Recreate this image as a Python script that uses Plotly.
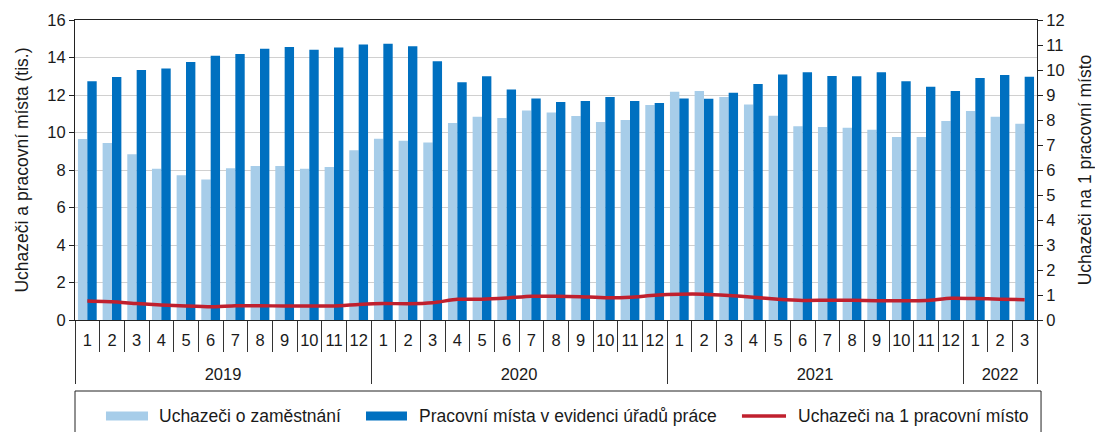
import plotly.graph_objects as go

# ---- data ----
years = ["2019", "2020", "2021", "2022"]
months_per_year = [12, 12, 12, 3]
month_labels = ["1", "2", "3", "4", "5", "6", "7", "8", "9", "10", "11", "12"]

uchazeci = [9.65, 9.44, 8.84, 8.07, 7.72, 7.50, 8.09, 8.21, 8.21, 8.07, 8.16, 9.05,
            9.67, 9.56, 9.46, 10.51, 10.84, 10.77, 11.18, 11.07, 10.88, 10.56, 10.67, 11.47,
            12.18, 12.21, 11.89, 11.50, 10.90, 10.33, 10.29, 10.26, 10.15, 9.76, 9.76, 10.61,
            11.15, 10.84, 10.47]
mista = [12.73, 12.96, 13.33, 13.42, 13.76, 14.10, 14.19, 14.47, 14.56, 14.42, 14.53, 14.69,
         14.74, 14.60, 13.80, 12.68, 13.00, 12.30, 11.82, 11.63, 11.68, 11.89, 11.68, 11.57,
         11.82, 11.80, 12.12, 12.59, 13.10, 13.21, 13.01, 13.00, 13.21, 12.73, 12.44, 12.21,
         12.91, 13.07, 12.98]
na_misto = [0.76, 0.73, 0.66, 0.60, 0.56, 0.53, 0.57, 0.57, 0.56, 0.56, 0.56, 0.62,
            0.66, 0.65, 0.69, 0.83, 0.83, 0.88, 0.95, 0.95, 0.93, 0.89, 0.91, 0.99,
            1.03, 1.03, 0.98, 0.91, 0.83, 0.78, 0.79, 0.79, 0.77, 0.77, 0.78, 0.87,
            0.86, 0.83, 0.81]

left_title = "Uchazeči a pracovní místa (tis.)"
right_title = "Uchazeči na 1 pracovní místo"
legend_names = ["Uchazeči o zaměstnání", "Pracovní místa v evidenci úřadů práce",
                "Uchazeči na 1 pracovní místo"]

# ---- styles ----
LIGHT = "#A7CDE9"
DARK = "#0070C0"
RED = "#C0202E"
FONT = "Liberation Sans, Arial, sans-serif"
TXT = "#1a1a1a"

# month labels get an (invisible) small extra line so the year row sits lower
PAD = "<br><span style='font-size:4px'> </span>"

x_year = []
x_month = []
for y, n in zip(years, months_per_year):
    x_year += [y] * n
    x_month += [m + PAD for m in month_labels[:n]]
x = [x_year, x_month]

fig = go.Figure()
fig.add_trace(go.Bar(x=x, y=uchazeci, name=legend_names[0], marker_color=LIGHT,
                     marker_line_width=0, showlegend=False))
fig.add_trace(go.Bar(x=x, y=mista, name=legend_names[1], marker_color=DARK,
                     marker_line_width=0, showlegend=False))
fig.add_trace(go.Scatter(x=x, y=na_misto, name=legend_names[2], mode="lines",
                         line=dict(color=RED, width=3.5, shape="spline", smoothing=0.5),
                         yaxis="y2", showlegend=False))

# the page body has an 8px margin, so the figure is 8px smaller than the window
fig.update_layout(
    width=1095, height=424,
    margin=dict(l=67, r=66, t=12, b=112),
    paper_bgcolor="white", plot_bgcolor="white",
    font=dict(family=FONT, size=16, color=TXT),
    barmode="group", bargap=0.24, bargroupgap=0,
    xaxis=dict(
        type="multicategory", automargin=False,
        showline=True, linecolor="#222", linewidth=1, mirror=True,
        ticks="outside", tickson="boundaries", ticklen=31, tickcolor="#333", tickwidth=1,
        dividercolor="#333", dividerwidth=1,
        showgrid=False, tickangle=0, ticklabelstandoff=5,
        tickfont=dict(size=16.5),
    ),
    yaxis=dict(
        range=[0, 16], dtick=2, tick0=0, automargin=False,
        showline=True, linecolor="#222", linewidth=1,
        ticks="outside", ticklen=5, tickcolor="#222",
        showgrid=True, gridcolor="#D0D0D0", gridwidth=1.3,
        zeroline=False,
        title=dict(text=left_title, font=dict(size=17.5), standoff=14),
        tickfont=dict(size=16.5),
    ),
    yaxis2=dict(
        range=[0, 12], dtick=1, tick0=0, overlaying="y", side="right", automargin=False,
        showline=True, linecolor="#222", linewidth=1,
        ticks="outside", ticklen=5, tickcolor="#222",
        showgrid=False, zeroline=False,
        title=dict(text=right_title, font=dict(size=17.5), standoff=15),
        tickfont=dict(size=16.5),
    ),
)

# ---- custom legend (box, swatches, labels) ----
shapes = [
    dict(type="rect", xref="paper", yref="paper", x0=0, x1=1.0042, y0=-0.2367, y1=-0.45,
         line=dict(color="#222", width=1), fillcolor="rgba(0,0,0,0)", layer="above"),
    dict(type="rect", xref="paper", yref="paper", x0=0.0322, x1=0.0759, y0=-0.305, y1=-0.335,
         line=dict(width=0), fillcolor=LIGHT),
    dict(type="rect", xref="paper", yref="paper", x0=0.3025, x1=0.3451, y0=-0.305, y1=-0.335,
         line=dict(width=0), fillcolor=DARK),
    dict(type="line", xref="paper", yref="paper", x0=0.6933, x1=0.7391, y0=-0.32, y1=-0.32,
         line=dict(color=RED, width=3.5)),
]
annotations = [
    dict(xref="paper", yref="paper", x=xx, y=-0.32, text=t, showarrow=False,
         xanchor="left", yanchor="middle", font=dict(size=17.5, family=FONT, color=TXT))
    for xx, t in zip([0.0852, 0.3555, 0.7495], legend_names)
]
fig.update_layout(shapes=shapes, annotations=annotations)

fig.write_html("out.html")
